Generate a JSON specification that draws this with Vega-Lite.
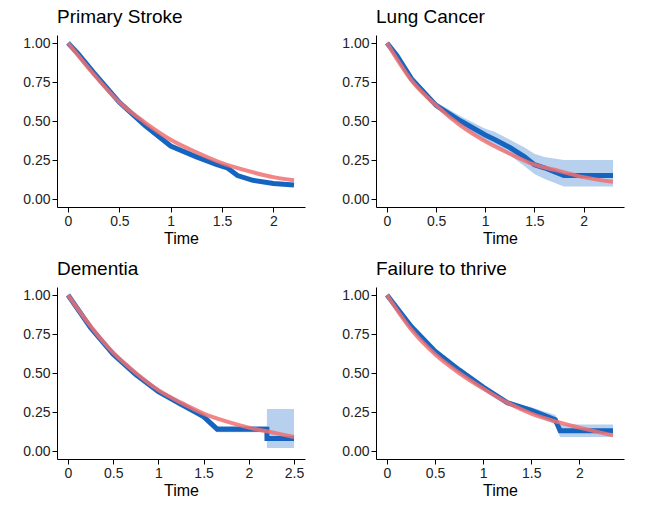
{
  "$schema": "https://vega.github.io/schema/vega-lite/v6.json",
  "background": "white",
  "padding": {"left": 22, "top": 8, "right": 5, "bottom": 5},
  "config": {
    "font": "Liberation Sans",
    "view": {"stroke": null},
    "axis": {"grid": false, "domainColor": "black", "tickColor": "black", "labelColor": "#222", "titleColor": "black", "labelFontSize": 14, "titleFontSize": 16, "titleFontWeight": "normal"}
  },
  "spacing": {"row": 14, "column": 36},
  "data": {
    "values": [
      {"panel": "Primary Stroke", "series": "km", "t": 0, "s": 1, "lo": 0.99, "hi": 1},
      {"panel": "Primary Stroke", "series": "km", "t": 0.1, "s": 0.93, "lo": 0.92, "hi": 0.94},
      {"panel": "Primary Stroke", "series": "km", "t": 0.25, "s": 0.81, "lo": 0.8, "hi": 0.82},
      {"panel": "Primary Stroke", "series": "km", "t": 0.5, "s": 0.62, "lo": 0.61, "hi": 0.63},
      {"panel": "Primary Stroke", "series": "km", "t": 0.75, "s": 0.47, "lo": 0.46, "hi": 0.48},
      {"panel": "Primary Stroke", "series": "km", "t": 1, "s": 0.34, "lo": 0.33, "hi": 0.35},
      {"panel": "Primary Stroke", "series": "km", "t": 1.25, "s": 0.27, "lo": 0.26, "hi": 0.28},
      {"panel": "Primary Stroke", "series": "km", "t": 1.45, "s": 0.22, "lo": 0.21, "hi": 0.23},
      {"panel": "Primary Stroke", "series": "km", "t": 1.55, "s": 0.2, "lo": 0.19, "hi": 0.21},
      {"panel": "Primary Stroke", "series": "km", "t": 1.65, "s": 0.15, "lo": 0.14, "hi": 0.16},
      {"panel": "Primary Stroke", "series": "km", "t": 1.8, "s": 0.12, "lo": 0.11, "hi": 0.13},
      {"panel": "Primary Stroke", "series": "km", "t": 2, "s": 0.1, "lo": 0.09, "hi": 0.11},
      {"panel": "Primary Stroke", "series": "km", "t": 2.2, "s": 0.09, "lo": 0.08, "hi": 0.1},
      {"panel": "Primary Stroke", "series": "fit", "t": 0, "s": 1},
      {"panel": "Primary Stroke", "series": "fit", "t": 0.25, "s": 0.8},
      {"panel": "Primary Stroke", "series": "fit", "t": 0.5, "s": 0.62},
      {"panel": "Primary Stroke", "series": "fit", "t": 0.75, "s": 0.49},
      {"panel": "Primary Stroke", "series": "fit", "t": 1, "s": 0.38},
      {"panel": "Primary Stroke", "series": "fit", "t": 1.25, "s": 0.3},
      {"panel": "Primary Stroke", "series": "fit", "t": 1.5, "s": 0.23},
      {"panel": "Primary Stroke", "series": "fit", "t": 1.75, "s": 0.18},
      {"panel": "Primary Stroke", "series": "fit", "t": 2, "s": 0.14},
      {"panel": "Primary Stroke", "series": "fit", "t": 2.2, "s": 0.12},

      {"panel": "Lung Cancer", "series": "km", "t": 0, "s": 1, "lo": 0.99, "hi": 1},
      {"panel": "Lung Cancer", "series": "km", "t": 0.1, "s": 0.92, "lo": 0.9, "hi": 0.94},
      {"panel": "Lung Cancer", "series": "km", "t": 0.25, "s": 0.77, "lo": 0.75, "hi": 0.79},
      {"panel": "Lung Cancer", "series": "km", "t": 0.5, "s": 0.6, "lo": 0.58, "hi": 0.62},
      {"panel": "Lung Cancer", "series": "km", "t": 0.75, "s": 0.5, "lo": 0.47, "hi": 0.53},
      {"panel": "Lung Cancer", "series": "km", "t": 1, "s": 0.41, "lo": 0.37, "hi": 0.45},
      {"panel": "Lung Cancer", "series": "km", "t": 1.1, "s": 0.38, "lo": 0.34, "hi": 0.43},
      {"panel": "Lung Cancer", "series": "km", "t": 1.25, "s": 0.33, "lo": 0.28, "hi": 0.38},
      {"panel": "Lung Cancer", "series": "km", "t": 1.4, "s": 0.27, "lo": 0.21, "hi": 0.33},
      {"panel": "Lung Cancer", "series": "km", "t": 1.5, "s": 0.22, "lo": 0.16, "hi": 0.29},
      {"panel": "Lung Cancer", "series": "km", "t": 1.6, "s": 0.2, "lo": 0.13, "hi": 0.27},
      {"panel": "Lung Cancer", "series": "km", "t": 1.8, "s": 0.15, "lo": 0.08, "hi": 0.25},
      {"panel": "Lung Cancer", "series": "km", "t": 2.3, "s": 0.15, "lo": 0.08, "hi": 0.25},
      {"panel": "Lung Cancer", "series": "fit", "t": 0, "s": 1},
      {"panel": "Lung Cancer", "series": "fit", "t": 0.25, "s": 0.76},
      {"panel": "Lung Cancer", "series": "fit", "t": 0.5, "s": 0.6},
      {"panel": "Lung Cancer", "series": "fit", "t": 0.75, "s": 0.47},
      {"panel": "Lung Cancer", "series": "fit", "t": 1, "s": 0.37},
      {"panel": "Lung Cancer", "series": "fit", "t": 1.25, "s": 0.29},
      {"panel": "Lung Cancer", "series": "fit", "t": 1.5, "s": 0.22},
      {"panel": "Lung Cancer", "series": "fit", "t": 1.75, "s": 0.18},
      {"panel": "Lung Cancer", "series": "fit", "t": 2, "s": 0.14},
      {"panel": "Lung Cancer", "series": "fit", "t": 2.3, "s": 0.11},

      {"panel": "Dementia", "series": "km", "t": 0, "s": 1, "lo": 0.99, "hi": 1},
      {"panel": "Dementia", "series": "km", "t": 0.25, "s": 0.79, "lo": 0.78, "hi": 0.8},
      {"panel": "Dementia", "series": "km", "t": 0.5, "s": 0.62, "lo": 0.61, "hi": 0.63},
      {"panel": "Dementia", "series": "km", "t": 0.75, "s": 0.49, "lo": 0.48, "hi": 0.5},
      {"panel": "Dementia", "series": "km", "t": 1, "s": 0.38, "lo": 0.37, "hi": 0.39},
      {"panel": "Dementia", "series": "km", "t": 1.25, "s": 0.3, "lo": 0.29, "hi": 0.31},
      {"panel": "Dementia", "series": "km", "t": 1.5, "s": 0.22, "lo": 0.2, "hi": 0.24},
      {"panel": "Dementia", "series": "km", "t": 1.65, "s": 0.14, "lo": 0.12, "hi": 0.16},
      {"panel": "Dementia", "series": "km", "t": 2.2, "s": 0.14, "lo": 0.12, "hi": 0.16},
      {"panel": "Dementia", "series": "km", "t": 2.201, "s": 0.08, "lo": 0.02, "hi": 0.27},
      {"panel": "Dementia", "series": "km", "t": 2.5, "s": 0.08, "lo": 0.02, "hi": 0.27},
      {"panel": "Dementia", "series": "fit", "t": 0, "s": 1},
      {"panel": "Dementia", "series": "fit", "t": 0.25, "s": 0.8},
      {"panel": "Dementia", "series": "fit", "t": 0.5, "s": 0.63},
      {"panel": "Dementia", "series": "fit", "t": 0.75, "s": 0.5},
      {"panel": "Dementia", "series": "fit", "t": 1, "s": 0.39},
      {"panel": "Dementia", "series": "fit", "t": 1.25, "s": 0.31},
      {"panel": "Dementia", "series": "fit", "t": 1.5, "s": 0.24},
      {"panel": "Dementia", "series": "fit", "t": 1.75, "s": 0.19},
      {"panel": "Dementia", "series": "fit", "t": 2, "s": 0.15},
      {"panel": "Dementia", "series": "fit", "t": 2.25, "s": 0.12},
      {"panel": "Dementia", "series": "fit", "t": 2.5, "s": 0.09},

      {"panel": "Failure to thrive", "series": "km", "t": 0, "s": 1, "lo": 0.99, "hi": 1},
      {"panel": "Failure to thrive", "series": "km", "t": 0.25, "s": 0.8, "lo": 0.79, "hi": 0.81},
      {"panel": "Failure to thrive", "series": "km", "t": 0.5, "s": 0.64, "lo": 0.63, "hi": 0.65},
      {"panel": "Failure to thrive", "series": "km", "t": 0.75, "s": 0.52, "lo": 0.51, "hi": 0.53},
      {"panel": "Failure to thrive", "series": "km", "t": 1, "s": 0.41, "lo": 0.4, "hi": 0.42},
      {"panel": "Failure to thrive", "series": "km", "t": 1.25, "s": 0.31, "lo": 0.3, "hi": 0.32},
      {"panel": "Failure to thrive", "series": "km", "t": 1.5, "s": 0.26, "lo": 0.24, "hi": 0.28},
      {"panel": "Failure to thrive", "series": "km", "t": 1.75, "s": 0.2, "lo": 0.17, "hi": 0.23},
      {"panel": "Failure to thrive", "series": "km", "t": 1.8, "s": 0.13, "lo": 0.09, "hi": 0.17},
      {"panel": "Failure to thrive", "series": "km", "t": 2.35, "s": 0.13, "lo": 0.09, "hi": 0.17},
      {"panel": "Failure to thrive", "series": "fit", "t": 0, "s": 1},
      {"panel": "Failure to thrive", "series": "fit", "t": 0.25, "s": 0.78},
      {"panel": "Failure to thrive", "series": "fit", "t": 0.5, "s": 0.62},
      {"panel": "Failure to thrive", "series": "fit", "t": 0.75, "s": 0.5},
      {"panel": "Failure to thrive", "series": "fit", "t": 1, "s": 0.4},
      {"panel": "Failure to thrive", "series": "fit", "t": 1.25, "s": 0.31},
      {"panel": "Failure to thrive", "series": "fit", "t": 1.5, "s": 0.24},
      {"panel": "Failure to thrive", "series": "fit", "t": 1.75, "s": 0.19},
      {"panel": "Failure to thrive", "series": "fit", "t": 2, "s": 0.15},
      {"panel": "Failure to thrive", "series": "fit", "t": 2.35, "s": 0.1}
    ]
  },
  "columns": 2,
  "facet": {
    "field": "panel",
    "type": "nominal",
    "sort": ["Primary Stroke", "Lung Cancer", "Dementia", "Failure to thrive"],
    "header": {"title": null, "labelAnchor": "start", "labelFontSize": 19, "labelColor": "black", "labelPadding": 6, "labelFont": "Liberation Sans"}
  },
  "spec": {
    "width": 248,
    "height": 172,
    "encoding": {
      "x": {"field": "t", "type": "quantitative", "title": "Time", "scale": {"nice": false, "zero": false, "padding": 11}, "axis": {"format": "~g", "tickCount": 5, "titlePadding": 2}},
      "y": {"field": "s", "type": "quantitative", "title": null, "scale": {"domain": [0, 1], "padding": 8}, "axis": {"values": [0, 0.25, 0.5, 0.75, 1], "format": ".2f"}}
    },
    "layer": [
      {
        "transform": [{"filter": "datum.series == 'km'"}],
        "mark": {"type": "area", "interpolate": "linear", "color": "#a9c8ea", "opacity": 0.85},
        "encoding": {"y": {"field": "lo", "type": "quantitative"}, "y2": {"field": "hi"}}
      },
      {
        "transform": [{"filter": "datum.series == 'km'"}],
        "mark": {"type": "line", "interpolate": "linear", "color": "#1565c0", "strokeWidth": 5},
        "encoding": {}
      },
      {
        "transform": [{"filter": "datum.series == 'fit'"}],
        "mark": {"type": "line", "interpolate": "monotone", "color": "#f07070", "strokeWidth": 4, "opacity": 0.85},
        "encoding": {}
      }
    ]
  },
  "resolve": {"scale": {"x": "independent"}, "axis": {"x": "independent", "y": "independent"}}
}
